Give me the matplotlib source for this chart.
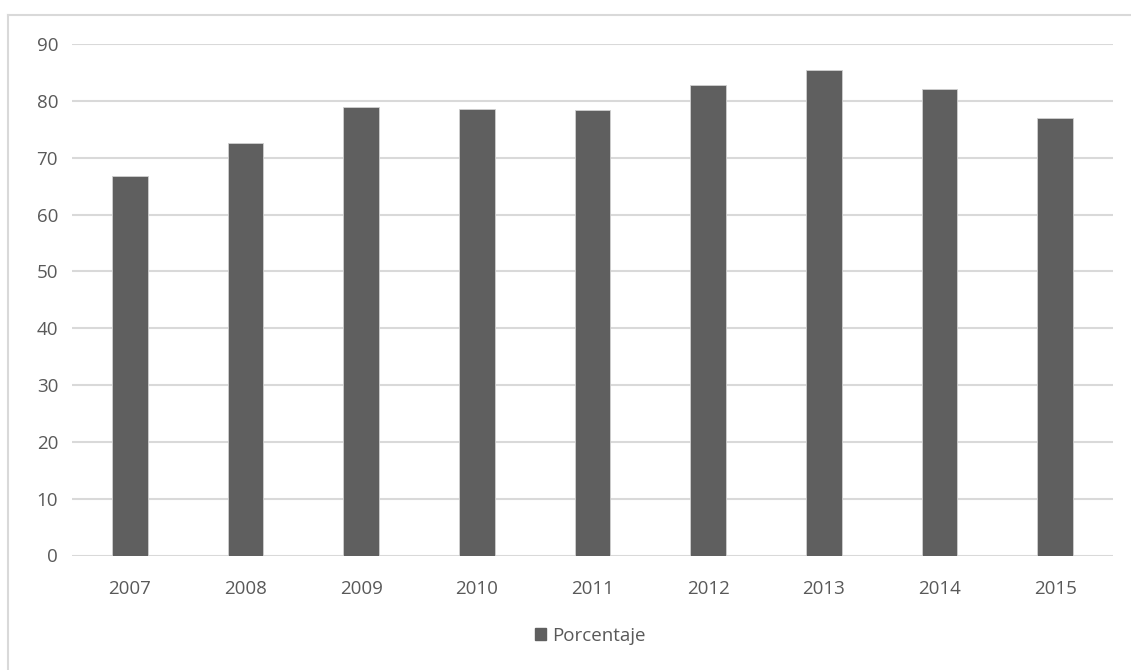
import matplotlib
matplotlib.use("Agg")
import matplotlib.pyplot as plt
from matplotlib.lines import Line2D
from matplotlib.patches import Patch

years = ["2007", "2008", "2009", "2010", "2011", "2012", "2013", "2014", "2015"]
porcentaje = [66.8, 72.6, 79.0, 78.6, 78.3, 82.7, 85.4, 82.0, 77.0]
yticks = [0, 10, 20, 30, 40, 50, 60, 70, 80, 90]

plt.rcParams['font.family'] = ['Open Sans', 'DejaVu Sans']
W, H = 1131, 670
fig = plt.figure(figsize=(W / 100, H / 100), dpi=100)
fig.patch.set_facecolor("white")

ax = fig.add_axes([72 / W, (H - 555.5) / H, (1113 - 72) / W, (555.5 - 44) / H])
x = list(range(len(years)))
ax.bar(x, porcentaje, width=0.31, color="#5f5f5f", edgecolor="#d0d0d0", linewidth=0.6, zorder=3,
       label="Porcentaje")
ax.set_xlim(-0.5, len(years) - 0.5)
ax.set_ylim(0, 90)
ax.set_yticks(yticks)
ax.set_xticks(x)
ax.set_xticklabels(years)
ax.grid(axis="y", color="#d9d9d9", linewidth=1.5, zorder=0)
for s in ax.spines.values():
    s.set_visible(False)
ax.tick_params(axis="both", length=0, colors="#595959", labelsize=13.5)
ax.tick_params(axis="y", pad=10)
ax.tick_params(axis="x", pad=18)

# border of chart area (left and top)
fig.add_artist(Line2D([7.5 / W, 7.5 / W], [0, (H - 15) / H], color="#d9d9d9", lw=1.5,
                      transform=fig.transFigure))
fig.add_artist(Line2D([7.5 / W, 1], [(H - 15) / H, (H - 15) / H], color="#d9d9d9", lw=1.5,
                      transform=fig.transFigure))

handles = [Patch(facecolor="#5f5f5f", edgecolor="#5f5f5f", label="Porcentaje")]
fig.legend(handles=handles, loc="center", bbox_to_anchor=(590 / W, (H - 636) / H),
           frameon=False, fontsize=13.5, labelcolor="#595959", handlelength=0.6,
           handleheight=0.6, handletextpad=0.3)

fig.savefig("out.png", dpi=100)
